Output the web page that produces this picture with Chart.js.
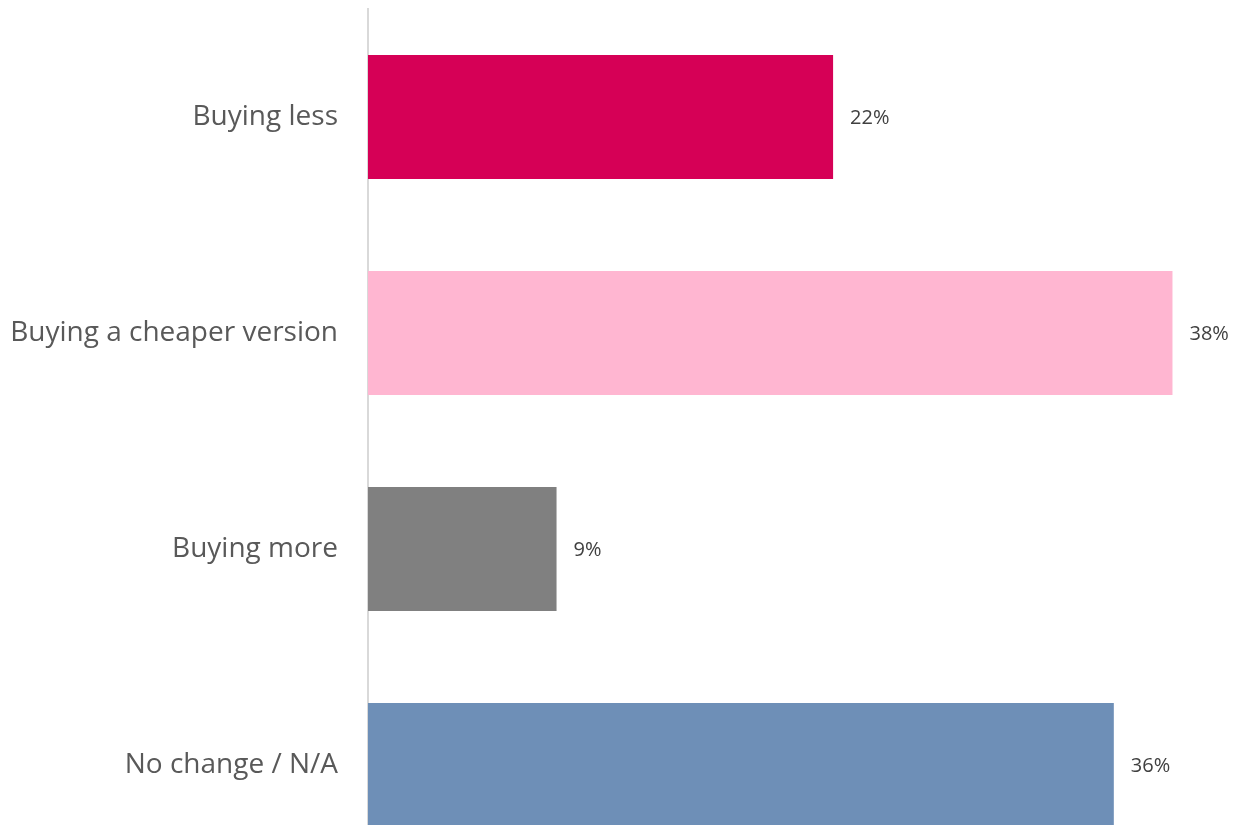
<!DOCTYPE html>
<html>
<head>
<meta charset="utf-8">
<script src="https://cdn.jsdelivr.net/npm/chart.js@4/dist/chart.umd.min.js"></script>
<style>
  html, body { margin: 0; padding: 0; background: #fff; overflow: hidden; }
  .wrap { position: relative; width: 1234px; height: 880px; }
</style>
</head>
<body>
<div class="wrap"><canvas id="barChart"></canvas></div>
<script>
// data
const categories = ['Buying less', 'Buying a cheaper version', 'Buying more', 'No change / N/A'];
const shares = [22.2, 38.4, 9.0, 35.6];
const barColors = ['#D60056', '#FFB6D1', '#808080', '#6E8FB7'];

// value labels at the end of each bar
const valueLabels = {
  id: 'valueLabels',
  afterDatasetsDraw(chart) {
    const ctx = chart.ctx;
    const meta = chart.getDatasetMeta(0);
    ctx.save();
    ctx.font = '20px "Open Sans"';
    ctx.fillStyle = '#404040';
    ctx.textAlign = 'left';
    ctx.textBaseline = 'middle';
    meta.data.forEach((bar, i) => {
      ctx.fillText(Math.round(shares[i]) + '%', bar.x + 17, bar.y + 1);
    });
    ctx.restore();
  }
};

new Chart(document.getElementById('barChart'), {
  type: 'bar',
  data: {
    labels: categories,
    datasets: [{
      data: shares,
      backgroundColor: barColors,
      borderWidth: 0,
      categoryPercentage: 1,
      barPercentage: 0.574
    }]
  },
  options: {
    indexAxis: 'y',
    responsive: true,
    maintainAspectRatio: false,
    animation: false,
    layout: { padding: { top: 9, bottom: 7, right: 28, left: 0 } },
    plugins: {
      legend: { display: false },
      tooltip: { enabled: false }
    },
    scales: {
      x: { display: false, min: 0, max: 40 },
      y: {
        grid: { display: false, drawTicks: false },
        border: { display: true, color: '#D9D9D9', width: 2 },
        ticks: {
          color: '#595959',
          font: { family: '"Open Sans"', size: 28 },
          padding: 30
        },
        afterFit(scale) {
          scale.width = 368;
          // no extra top/bottom room for the tick labels
          scale.paddingTop = 0;
          scale.paddingBottom = 0;
        }
      }
    }
  },
  plugins: [valueLabels]
});
</script>
</body>
</html>
